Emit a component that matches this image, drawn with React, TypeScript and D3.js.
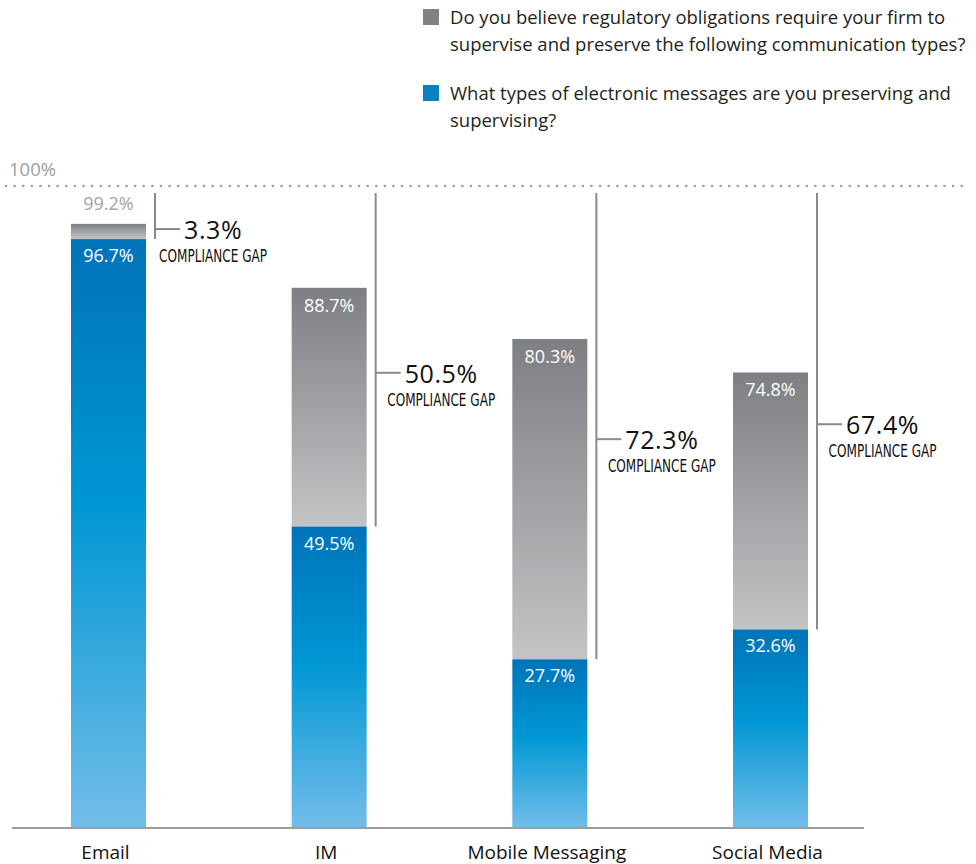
import React from "react";
import * as d3 from "d3";

const categories = ["Email", "IM", "Mobile Messaging", "Social Media"];
const believeValues = [99.2, 88.7, 80.3, 74.8];
const preservingValues = [96.7, 49.5, 27.7, 32.6];
const gapValues = [3.3, 50.5, 72.3, 67.4];
const legendGray = [
  "Do you believe regulatory obligations require your firm to",
  "supervise and preserve the following communication types?",
];
const legendBlue = [
  "What types of electronic messages are you preserving and",
  "supervising?",
];

const W = 976;
const H = 864;
const baseY = 828;
const refY = 186;
const barW = 75;
const FONT = "'Open Sans', 'Noto Sans', sans-serif";
const NARROW = "'Liberation Sans Narrow', 'DejaVu Sans Condensed', sans-serif";
const GAP_SIZE = 25;

function measure(text: string, size: number, family: string, spacing = 0): number {
  if (typeof document === "undefined") return text.length * size * 0.55;
  const c = document.createElement("canvas");
  const ctx = c.getContext("2d");
  if (!ctx) return text.length * size * 0.55;
  ctx.font = `${size}px ${family}`;
  return ctx.measureText(text).width + spacing * text.length;
}

export default function App() {
  const y = d3.scaleLinear().domain([0, 100]).range([baseY, 219]);
  const x = d3.scalePoint<string>().domain(categories).range([108.5, 770.5]);
  const fmt = (v: number) => `${v.toFixed(1)}%`;
  const bracketTop = refY + 7;

  return (
    <svg width={W} height={H} style={{ display: "block", position: "absolute", left: 0, top: 0, background: "#fff" }}>
      <defs>
        <linearGradient id="gGray" x1="0" y1="0" x2="0" y2="1">
          <stop offset="0" stopColor="#7e7f82" />
          <stop offset="1" stopColor="#c3c4c6" />
        </linearGradient>
        <linearGradient id="gBlue" x1="0" y1="0" x2="0" y2="1">
          <stop offset="0" stopColor="#0073b9" />
          <stop offset="0.45" stopColor="#0097d4" />
          <stop offset="1" stopColor="#72bde9" />
        </linearGradient>
      </defs>

      {/* Legend */}
      <rect x={423} y={9} width={16} height={16} fill="#808184" />
      {legendGray.map((t, i) => (
        <text key={"lg" + i} x={450} y={24 + i * 27} fontFamily={FONT} fontSize={18.5} fill="#231f20">{t}</text>
      ))}
      <rect x={423} y={85} width={16} height={16} fill="#0a7fc2" />
      {legendBlue.map((t, i) => (
        <text key={"lb" + i} x={450} y={100 + i * 27} fontFamily={FONT} fontSize={18.5} fill="#231f20">{t}</text>
      ))}

      {/* 100% reference */}
      <text x={9} y={176} fontFamily={FONT} fontSize={18.5} fill="#9d9d9f">100%</text>
      <line x1={6} x2={962} y1={refY} y2={refY} stroke="#9d9d9f" strokeWidth={2.6}
        strokeDasharray="0.01 8.6" strokeLinecap="round" />

      {/* Bars */}
      {categories.map((c, i) => {
        const cx = x(c)!;
        const x0 = cx - barW / 2;
        const gTop = y(believeValues[i]);
        const bTop = y(preservingValues[i]);
        const grayH = bTop - gTop;
        const lineX = x0 + barW + 9;
        const tickY = (bracketTop + bTop) / 2 + 13;
        const gapText = fmt(gapValues[i]);
        const numX = lineX + 29;
        const numW = measure(gapText, GAP_SIZE, FONT, 0.6);
        const capCenter = numX + numW / 2;
        return (
          <g key={c}>
            <rect x={x0} y={gTop} width={barW} height={grayH} fill="url(#gGray)" />
            <rect x={x0} y={bTop} width={barW} height={baseY - bTop} fill="url(#gBlue)" />
            {grayH > 25 ? (
              <text x={cx} y={gTop + 24} textAnchor="middle" fontFamily={FONT} fontSize={18} fill="#fff">{fmt(believeValues[i])}</text>
            ) : (
              <text x={cx} y={gTop - 14} textAnchor="middle" fontFamily={FONT} fontSize={18} fill="#a3a3a5">{fmt(believeValues[i])}</text>
            )}
            <text x={cx} y={bTop + 23} textAnchor="middle" fontFamily={FONT} fontSize={18} fill="#fff">{fmt(preservingValues[i])}</text>

            {/* bracket */}
            <line x1={lineX} x2={lineX} y1={bracketTop} y2={bTop} stroke="#8a8b8d" strokeWidth={2} />
            <line x1={lineX} x2={lineX + 25} y1={tickY} y2={tickY} stroke="#8a8b8d" strokeWidth={2} />
            <text x={numX} y={tickY + 10} fontFamily={FONT} fontSize={GAP_SIZE} letterSpacing={0.6} fill="#111">{gapText}</text>
            <text x={capCenter - 54} y={tickY + 33} fontFamily={NARROW} fontSize={17} fill="#111"
              textLength={108} lengthAdjust="spacingAndGlyphs">COMPLIANCE GAP</text>

            <text x={cx - 3} y={859} textAnchor="middle" fontFamily={FONT} fontSize={19} fill="#111">{c}</text>
          </g>
        );
      })}

      <line x1={12} x2={864} y1={baseY} y2={baseY} stroke="#9d9d9f" strokeWidth={2} />
    </svg>
  );
}
